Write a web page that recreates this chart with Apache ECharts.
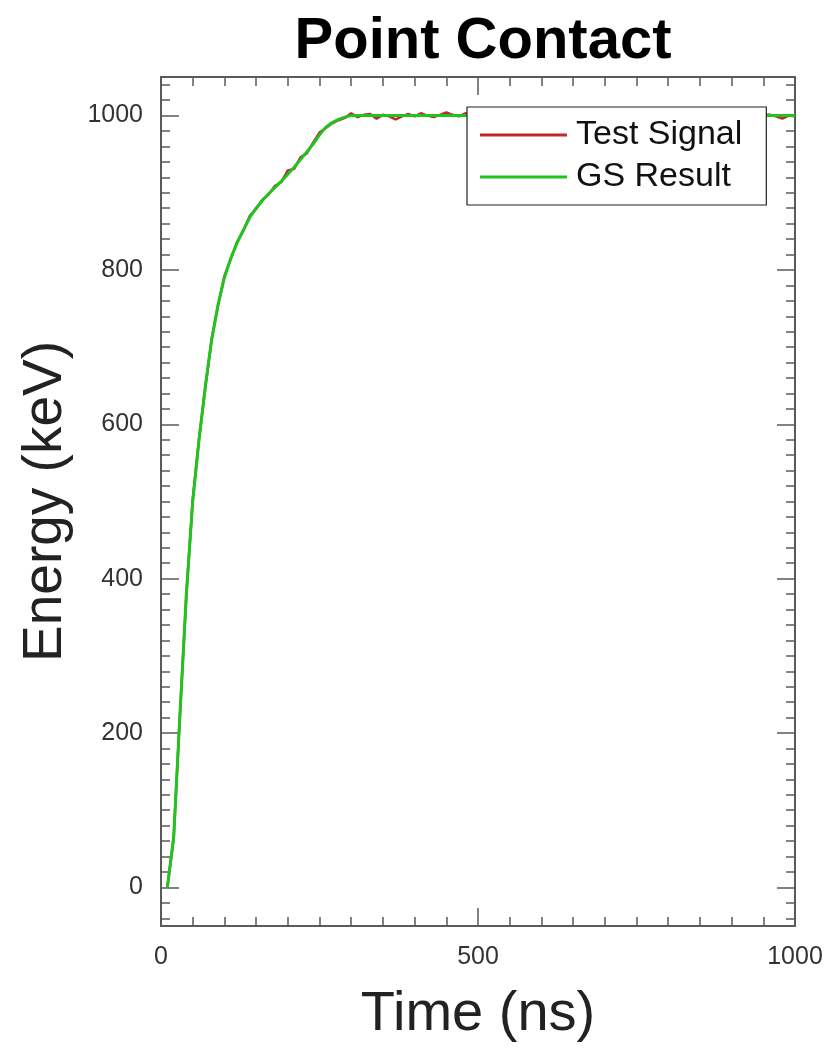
<!DOCTYPE html>
<html>
<head>
<meta charset="utf-8">
<script src="https://cdn.jsdelivr.net/npm/echarts@6/dist/echarts.min.js"></script>
<style>
  html, body { margin: 0; padding: 0; background: #fff; }
  #chart { width: 829px; height: 1048px; }
</style>
</head>
<body>
<div id="chart"></div>
<script>
// Sample times (ns)
const timeNs = [
  10, 20, 30, 40, 50, 60, 70, 80, 90, 100,
  110, 120, 130, 140, 150, 160, 170, 180, 190, 200,
  210, 220, 230, 240, 250, 260, 270, 280, 290, 300,
  310, 320, 330, 340, 350, 360, 370, 380, 390, 400,
  410, 420, 430, 440, 450, 460, 470, 480, 490, 500,
  510, 520, 530, 540, 550, 560, 570, 580, 590, 600,
  610, 620, 630, 640, 650, 660, 670, 680, 690, 700,
  710, 720, 730, 740, 750, 760, 770, 780, 790, 800,
  810, 820, 830, 840, 850, 860, 870, 880, 890, 900,
  910, 920, 930, 940, 950, 960, 970, 980, 990, 1000
];

// Measured test signal (keV), includes noise
const testSignal = [
  0, 64, 226, 379, 502, 581, 648, 711, 754, 792,
  814, 836, 851, 870, 879, 891, 898, 909, 914, 929,
  931, 946, 951, 965, 978, 984, 990, 994, 997, 1003,
  998, 1001, 1002, 996, 1001, 999, 995, 999, 1002, 999,
  1003, 1000, 998, 1001, 1004, 1001, 999, 1003, 1000, 998,
  1002, 999, 1001, 997, 1000, 1002, 999, 1001, 998, 1000,
  1003, 999, 1001, 998, 1000, 1002, 999, 997, 1001, 1000,
  1002, 998, 1000, 1001, 999, 1003, 1000, 998, 1001, 999,
  1002, 1000, 997, 1001, 1000, 999, 1002, 998, 1000, 1001,
  999, 1002, 1000, 998, 1001, 1001, 999, 996, 1000, 999
];

// Fitted GS result (keV)
const gsResult = [
  0, 65, 225, 380, 500, 580, 650, 710, 755, 790,
  815, 835, 852, 868, 880, 890, 899, 907, 915, 924,
  933, 943, 953, 963, 975, 985, 991, 995, 998, 1000,
  1000, 1000, 1000, 1000, 1000, 1000, 1000, 1000, 1000, 1000,
  1000, 1000, 1000, 1000, 1000, 1000, 1000, 1000, 1000, 1000,
  1000, 1000, 1000, 1000, 1000, 1000, 1000, 1000, 1000, 1000,
  1000, 1000, 1000, 1000, 1000, 1000, 1000, 1000, 1000, 1000,
  1000, 1000, 1000, 1000, 1000, 1000, 1000, 1000, 1000, 1000,
  1000, 1000, 1000, 1000, 1000, 1000, 1000, 1000, 1000, 1000,
  1000, 1000, 1000, 1000, 1000, 1000, 1000, 1000, 1000, 1000
];

// Axis tick positions
const yMajorTicks = [0, 200, 400, 600, 800, 1000];
const yMinorTicks = [
  -40, -20, 20, 40, 60, 80, 100, 120, 140, 160, 180,
  220, 240, 260, 280, 300, 320, 340, 360, 380,
  420, 440, 460, 480, 500, 520, 540, 560, 580,
  620, 640, 660, 680, 700, 720, 740, 760, 780,
  820, 840, 860, 880, 900, 920, 940, 960, 980,
  1020, 1040
];

const FONT = '"Liberation Sans", Arial, Helvetica, sans-serif';
const AXIS_COLOR = '#5a5a5a';
const plainNumber = v => String(v);

const testPoints = timeNs.map((t, i) => [t, testSignal[i]]);
const gsPoints = timeNs.map((t, i) => [t, gsResult[i]]);

function xAxisDef(position, showLabels) {
  return {
    type: 'value', position: position, min: 0, max: 1000, interval: 500,
    axisLine: { show: true, onZero: false, lineStyle: { color: AXIS_COLOR, width: 2 } },
    axisTick: { show: true, inside: true, length: 18, lineStyle: { color: AXIS_COLOR, width: 1.5 } },
    minorTick: { show: true, splitNumber: 10, length: 9, lineStyle: { color: AXIS_COLOR, width: 1.5 } },
    splitLine: { show: false },
    axisLabel: { show: showLabels, margin: 19, fontSize: 25, color: '#333', fontFamily: FONT,
                 formatter: plainNumber },
    name: showLabels ? 'Time (ns)' : '',
    nameLocation: 'middle', nameGap: 61,
    nameTextStyle: { fontSize: 56, color: '#222', fontFamily: FONT }
  };
}

function yAxisDef(position, ticks, tickLen, showLine, showLabels, named) {
  return {
    type: 'value', position: position, min: -50, max: 1050,
    axisLine: { show: showLine, onZero: false, lineStyle: { color: AXIS_COLOR, width: 2 } },
    axisTick: { show: true, inside: true, length: tickLen, customValues: ticks,
                lineStyle: { color: AXIS_COLOR, width: 1.5 } },
    splitLine: { show: false },
    axisLabel: { show: showLabels, customValues: yMajorTicks, margin: 18,
                 fontSize: 25, color: '#333', fontFamily: FONT, formatter: plainNumber },
    name: named ? 'Energy (keV)' : '',
    nameLocation: 'middle', nameGap: 88,
    nameTextStyle: { fontSize: 55, color: '#222', fontFamily: FONT }
  };
}

const chart = echarts.init(document.getElementById('chart'), null, { renderer: 'canvas' });
chart.setOption({
  animation: false,
  backgroundColor: '#ffffff',
  title: {
    text: 'Point Contact',
    left: 478, top: 8, textAlign: 'center',
    textStyle: { fontSize: 58, fontWeight: 'bold', color: '#000', fontFamily: FONT }
  },
  grid: { left: 161, right: 34, top: 77, bottom: 119, containLabel: false },
  legend: {
    left: 467, top: 107, orient: 'vertical',
    backgroundColor: '#ffffff', borderColor: '#222', borderWidth: 1.2,
    padding: [11, 24, 11, 13],
    icon: 'rect', itemWidth: 87, itemHeight: 3, itemGap: 8,
    textStyle: { fontSize: 34, lineHeight: 34, color: '#111', fontFamily: FONT, padding: [0, 0, 0, 4] },
    data: ['Test Signal', 'GS Result']
  },
  xAxis: [xAxisDef('bottom', true), xAxisDef('top', false)],
  yAxis: [
    yAxisDef('left', yMajorTicks, 18, true, true, true),
    yAxisDef('left', yMinorTicks, 9, false, false, false),
    yAxisDef('right', yMajorTicks, 18, true, false, false),
    yAxisDef('right', yMinorTicks, 9, false, false, false)
  ],
  series: [
    {
      name: 'Test Signal', type: 'line', xAxisIndex: 0, yAxisIndex: 0,
      data: testPoints, showSymbol: false, symbol: 'none',
      lineStyle: { color: '#c4262a', width: 2.5 }, itemStyle: { color: '#c4262a' }, z: 2
    },
    {
      name: 'GS Result', type: 'line', xAxisIndex: 0, yAxisIndex: 0,
      data: gsPoints, showSymbol: false, symbol: 'none',
      lineStyle: { color: '#1fc41f', width: 3 }, itemStyle: { color: '#1fc41f' }, z: 3
    }
  ]
});
</script>
</body>
</html>
